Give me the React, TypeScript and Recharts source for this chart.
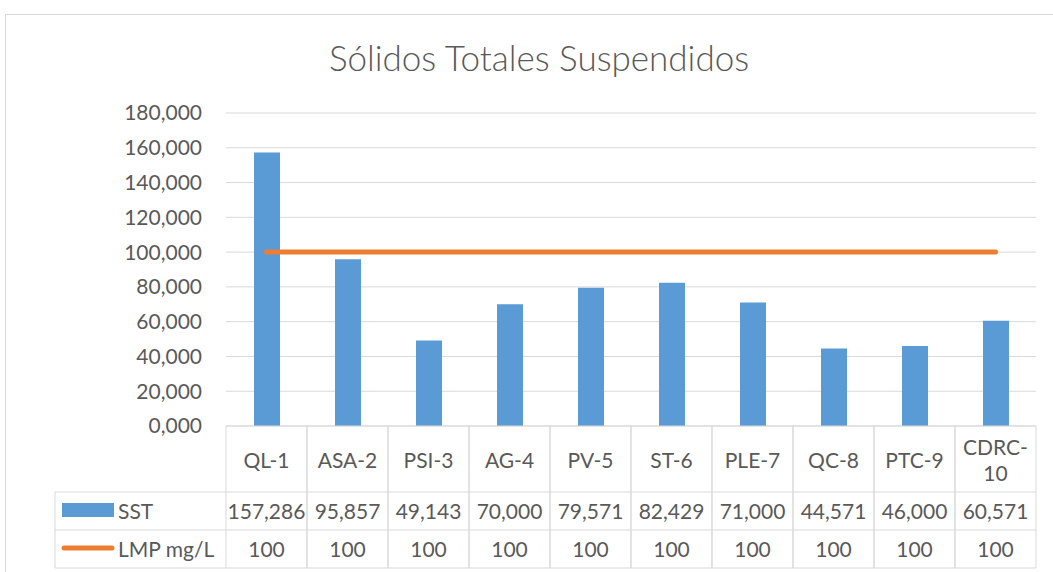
import React from 'react';
import { ComposedChart, Bar, Line, XAxis, YAxis, CartesianGrid } from 'recharts';

const categories = ['QL-1', 'ASA-2', 'PSI-3', 'AG-4', 'PV-5', 'ST-6', 'PLE-7', 'QC-8', 'PTC-9', 'CDRC-10'];
const sstValues = [157.286, 95.857, 49.143, 70.0, 79.571, 82.429, 71.0, 44.571, 46.0, 60.571];
const lmpValues = [100, 100, 100, 100, 100, 100, 100, 100, 100, 100];
const yTicks = [0, 20, 40, 60, 80, 100, 120, 140, 160, 180];

const data = categories.map((name, i) => ({ name, sst: sstValues[i], lmp: lmpValues[i] }));

const BLUE = '#5B9BD5';
const ORANGE = '#ED7D31';
const GRID = '#d9d9d9';
const TEXT = '#595959';
const FONT = 'Lato, "Noto Sans", sans-serif';

// table geometry (below the plot)
const CELL_W = 81;
const TOP = 426;
const ROW1 = 492;
const ROW2 = 530;
const BOTTOM = 568;
const LEGEND_X = 55;

const fmt = (v: number) => v.toFixed(3).replace('.', ',');

const TableTick = (props: any) => {
  const { x, payload, index } = props;
  const left = x - CELL_W / 2;
  const right = x + CELL_W / 2;
  const label: string = payload.value;
  const i = categories.indexOf(label);
  const lines = label === 'CDRC-10' ? ['CDRC-', '10'] : [label];
  const textProps = { fill: TEXT, fontSize: 21, fontFamily: FONT, textAnchor: 'middle' as const, dominantBaseline: 'central' as const };

  return (
    <g>
      <line x1={left} y1={TOP} x2={left} y2={BOTTOM} stroke={GRID} />
      <line x1={right} y1={TOP} x2={right} y2={BOTTOM} stroke={GRID} />
      <line x1={left} y1={ROW1} x2={right} y2={ROW1} stroke={GRID} />
      <line x1={left} y1={ROW2} x2={right} y2={ROW2} stroke={GRID} />
      <line x1={left} y1={BOTTOM} x2={right} y2={BOTTOM} stroke={GRID} />
      {lines.length === 1 ? (
        <text x={x} y={459} {...textProps}>{lines[0]}</text>
      ) : (
        <>
          <text x={x} y={446} {...textProps}>{lines[0]}</text>
          <text x={x} y={472} {...textProps}>{lines[1]}</text>
        </>
      )}
      <text x={x} y={510} {...textProps}>{fmt(sstValues[i])}</text>
      <text x={x} y={548} {...textProps}>{lmpValues[i]}</text>
      {index === 0 && (
        <g>
          <line x1={LEGEND_X} y1={ROW1} x2={left} y2={ROW1} stroke={GRID} />
          <line x1={LEGEND_X} y1={ROW2} x2={left} y2={ROW2} stroke={GRID} />
          <line x1={LEGEND_X} y1={BOTTOM} x2={left} y2={BOTTOM} stroke={GRID} />
          <line x1={LEGEND_X} y1={ROW1} x2={LEGEND_X} y2={BOTTOM} stroke={GRID} />
          <rect x={62} y={503} width={52} height={14} fill={BLUE} />
          <text x={118} y={510} {...textProps} textAnchor="start">SST</text>
          <line x1={64} y1={548} x2={112} y2={548} stroke={ORANGE} strokeWidth={5} strokeLinecap="round" />
          <text x={118} y={548} {...textProps} textAnchor="start">LMP mg/L</text>
        </g>
      )}
    </g>
  );
};

const App: React.FC = () => {
  return (
    <div style={{ position: 'absolute', left: 0, top: 0, width: 1053, height: 572, overflow: 'hidden', background: '#fff' }}>
      <div style={{ position: 'absolute', left: 5, top: 14, width: 1100, height: 620, border: `1px solid ${GRID}` }} />
      <div
        style={{
          position: 'absolute', left: 0, top: 34, width: 1078, textAlign: 'center',
          fontFamily: FONT, fontWeight: 300, fontSize: 35, color: TEXT, lineHeight: '46px',
        }}
      >
        Sólidos Totales Suspendidos
      </div>
      <div style={{ position: 'absolute', left: 0, top: 0 }}>
        <ComposedChart width={1053} height={572} data={data} margin={{ top: 113, right: 17, bottom: 0, left: 100 }}>
          <CartesianGrid horizontal vertical={false} stroke={GRID} />
          <XAxis
            dataKey="name"
            interval={0}
            height={146}
            axisLine={{ stroke: GRID }}
            tickLine={false}
            tick={<TableTick />}
          />
          <YAxis
            width={126}
            domain={[0, 180]}
            ticks={yTicks}
            axisLine={false}
            tickLine={false}
            tickMargin={18}
            tickFormatter={fmt}
            tick={{ fill: TEXT, fontSize: 21, fontFamily: FONT }}
          />
          <Bar dataKey="sst" fill={BLUE} barSize={26} isAnimationActive={false} />
          <Line
            dataKey="lmp"
            stroke={ORANGE}
            strokeWidth={5}
            strokeLinecap="round"
            dot={false}
            activeDot={false}
            isAnimationActive={false}
          />
        </ComposedChart>
      </div>
    </div>
  );
};

export default App;
